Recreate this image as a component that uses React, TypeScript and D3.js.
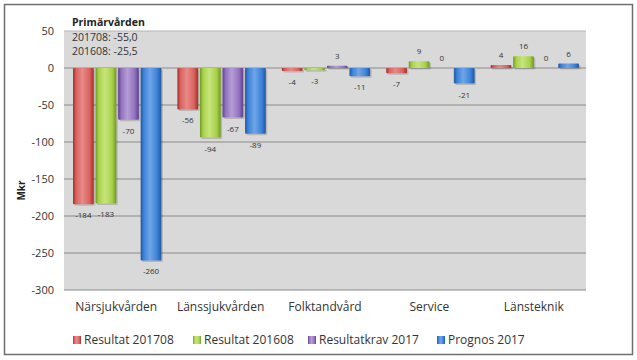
import React from "react";
import * as d3 from "d3";

const categories = ["Närsjukvården", "Länssjukvården", "Folktandvård", "Service", "Länsteknik"];
const seriesNames = ["Resultat 201708", "Resultat 201608", "Resultatkrav 2017", "Prognos 2017"];
const resultat201708 = [-184, -56, -4, -7, 4];
const resultat201608 = [-183, -94, -3, 9, 16];
const resultatkrav2017 = [-70, -67, 3, 0, 0];
const prognos2017 = [-260, -89, -11, -21, 6];
const yTicks = [50, 0, -50, -100, -150, -200, -250, -300];
const infoTitle = "Primärvården";
const infoLines = ["201708: -55,0", "201608: -25,5"];

const seriesValues = [resultat201708, resultat201608, resultatkrav2017, prognos2017];
const colors = [
  { mid: "#D9625F", edge: "#A52C28", light: "#E88B88" },
  { mid: "#A8D14A", edge: "#6F9A1F", light: "#C6E57D" },
  { mid: "#9272BE", edge: "#5E3F8C", light: "#B59DD6" },
  { mid: "#3C82D9", edge: "#1F56A3", light: "#6FA5E8" },
];

const W = 637;
const H = 360;
const plot = { left: 64, right: 586, top: 31, bottom: 290 };
const font = "'Open Sans', 'Liberation Sans', sans-serif";

export default function App() {
  const x = d3.scaleBand<string>().domain(categories).range([plot.left, plot.right]).paddingInner(0).paddingOuter(0);
  const y = d3.scaleLinear().domain([-300, 50]).range([plot.bottom, plot.top]);
  const inner = d3
    .scaleBand<number>()
    .domain(d3.range(seriesNames.length))
    .range([9, x.bandwidth() - 7])
    .paddingInner(0.08);

  const legendX = [73, 193, 308, 437];

  return (
    <div style={{ position: "absolute", left: 0, top: 0 }}>
      <svg width={W} height={H} style={{ display: "block" }}>
        <defs>
          {colors.map((c, i) => (
            <linearGradient key={i} id={`g${i}`} x1="0" x2="1" y1="0" y2="0">
              <stop offset="0" stopColor={c.edge} />
              <stop offset="0.15" stopColor={c.mid} />
              <stop offset="0.45" stopColor={c.light} />
              <stop offset="0.8" stopColor={c.mid} />
              <stop offset="1" stopColor={c.edge} />
            </linearGradient>
          ))}
        </defs>
        <rect x={0} y={0} width={W} height={H} fill="#fff" />
        <rect x={4.5} y={4.5} width={628} height={350} fill="#fff" stroke="#6f6f6f" strokeWidth={1.5} />
        <rect
          x={plot.left}
          y={plot.top}
          width={plot.right - plot.left}
          height={plot.bottom - plot.top}
          fill="#D9D9D9"
        />
        {yTicks.map((t) => (
          <g key={t}>
            <line
              x1={plot.left}
              x2={plot.right}
              y1={y(t)}
              y2={y(t)}
              stroke={t === 50 ? "#b5b5b5" : "#8a8a8a"}
              strokeWidth={1}
            />
            <text
              x={54}
              y={y(t)}
              dy="0.35em"
              textAnchor="end"
              fontFamily={font}
              fontSize={11}
              fill="#333"
            >
              {t}
            </text>
          </g>
        ))}
        {categories.map((cat, ci) =>
          seriesValues.map((vals, si) => {
            const v = vals[ci];
            const bx = (x(cat) as number) + (inner(si) as number);
            const bw = inner.bandwidth();
            const y0 = y(0);
            const y1 = y(v);
            const top = Math.min(y0, y1);
            const h = Math.abs(y1 - y0);
            const ly = v < 0 ? y1 + 14 : y1 - 7;
            return (
              <g key={`${ci}-${si}`}>
                {v !== 0 && (
                  <>
                    <rect x={bx + 1.5} y={top + 1.5} width={bw} height={Math.max(h, 2)} fill="#000" opacity={0.15} rx={1} />
                    <rect x={bx} y={top} width={bw} height={Math.max(h, 2)} fill={`url(#g${si})`} rx={1} />
                  </>
                )}
                <text
                  x={bx + bw / 2}
                  y={ly}
                  textAnchor="middle"
                  fontFamily={font}
                  fontSize={8}
                  fill="#333"
                >
                  {v}
                </text>
              </g>
            );
          })
        )}
        {categories.map((cat) => (
          <text
            key={cat}
            x={(x(cat) as number) + x.bandwidth() / 2}
            y={311}
            textAnchor="middle"
            fontFamily={font}
            fontSize={12}
            fill="#333"
          >
            {cat}
          </text>
        ))}
        <text
          transform={`translate(25,${(plot.top + plot.bottom) / 2 + 30}) rotate(-90)`}
          textAnchor="middle"
          fontFamily={font}
          fontSize={10}
          fontWeight="bold"
          fill="#222"
        >
          Mkr
        </text>
        <text x={72} y={26} fontFamily={font} fontSize={10.5} fontWeight="bold" fill="#222">
          {infoTitle}
        </text>
        {infoLines.map((l, i) => (
          <text key={l} x={72} y={41 + i * 14} fontFamily={font} fontSize={10.5} fill="#333">
            {l}
          </text>
        ))}
        {seriesNames.map((s, i) => (
          <g key={s}>
            <rect x={legendX[i]} y={336} width={8} height={8} fill={`url(#g${i})`} />
            <text x={legendX[i] + 11} y={344} fontFamily={font} fontSize={12} fill="#333">
              {s}
            </text>
          </g>
        ))}
      </svg>
    </div>
  );
}
